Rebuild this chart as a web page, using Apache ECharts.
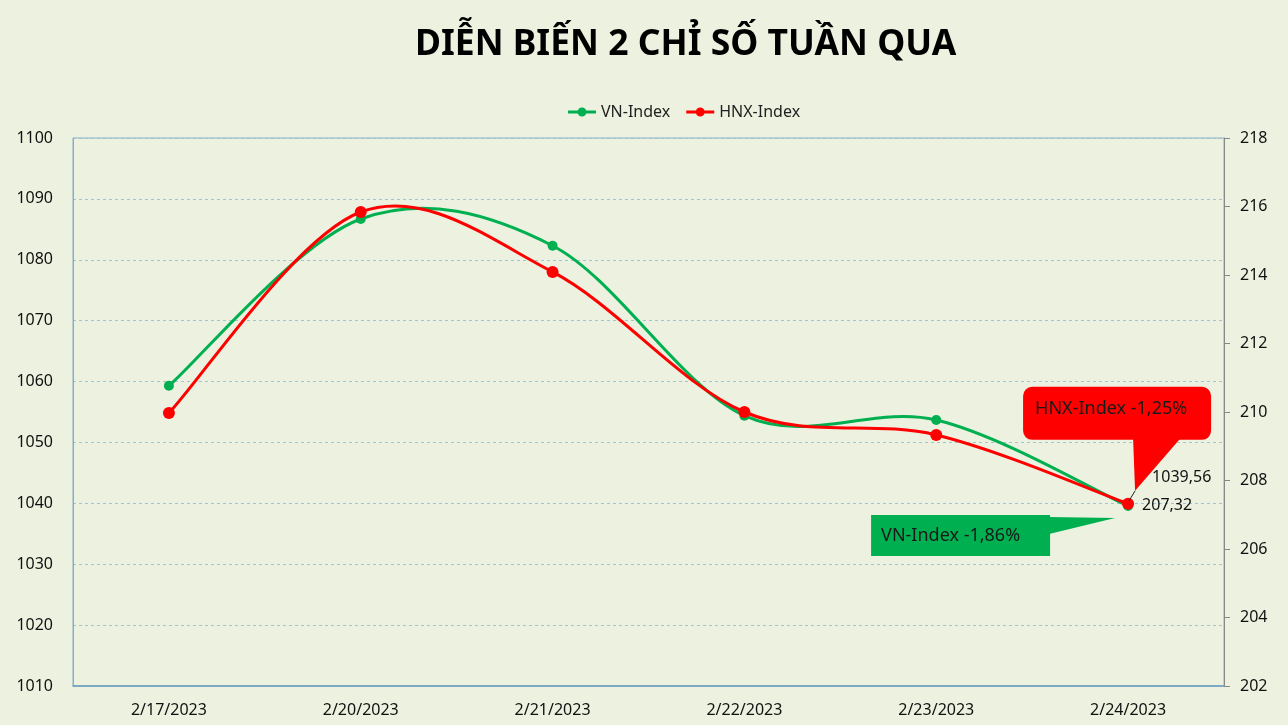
<!DOCTYPE html>
<html>
<head>
<meta charset="utf-8">
<script src="https://cdn.jsdelivr.net/npm/echarts@6/dist/echarts.min.js"></script>
<style>
html,body{margin:0;padding:0;background:#EDF1E0;}
#main{width:1288px;height:725px;}
</style>
</head>
<body>
<div id="main"></div>
<script>
const categories = ['2/17/2023','2/20/2023','2/21/2023','2/22/2023','2/23/2023','2/24/2023'];
const vnIndex = [1059.3, 1086.7, 1082.3, 1054.4, 1053.7, 1039.56];
const hnxIndex = [209.97, 215.84, 214.09, 210.0, 209.33, 207.32];
const leftTicks = {min: 1010, max: 1100, interval: 10};
const rightTicks = {min: 202, max: 218, interval: 2};
const vnChange = 'VN-Index -1,86%';
const hnxChange = 'HNX-Index -1,25%';

const FONT = 'Noto Sans';
const GREEN = '#00B050';
const RED = '#FF0000';
const LEGEND_ICON = 'path://M0,3.5 L28,3.5 L28,6.5 L0,6.5 Z M14,0.5 A4.5,4.5 0 1,1 14,9.5 A4.5,4.5 0 1,1 14,0.5 Z';
const chart = echarts.init(document.getElementById('main'));
const fmt = v => String(v).replace('.', ',');

// Excel-like smooth curve drawn through the data points, using the axis scales
function curveRenderer(color) {
  return function (params, api) {
    if (params.dataIndexInside !== 0) return null;
    const n = params.dataInsideLength;
    const pts = [];
    for (let i = 0; i < n; i++) pts.push(api.coord([api.value(0, i), api.value(1, i)]));
    const path = [];
    for (let i = 0; i < n - 1; i++) {
      const p0 = pts[Math.max(0, i - 1)], p1 = pts[i], p2 = pts[i + 1], p3 = pts[Math.min(n - 1, i + 2)];
      const c1 = [p1[0] + (p2[0] - p0[0]) / 6, p1[1] + (p2[1] - p0[1]) / 6];
      const c2 = [p2[0] - (p3[0] - p1[0]) / 6, p2[1] - (p3[1] - p1[1]) / 6];
      if (i === 0) path.push('M' + p1[0] + ' ' + p1[1]);
      path.push('C' + c1[0] + ' ' + c1[1] + ' ' + c2[0] + ' ' + c2[1] + ' ' + p2[0] + ' ' + p2[1]);
    }
    return {
      type: 'path',
      shape: {pathData: path.join(' ')},
      style: {fill: null, stroke: color, lineWidth: 3, lineJoin: 'round', lineCap: 'round'}
    };
  };
}

chart.setOption({
  animation: false,
  backgroundColor: '#EDF1E0',
  textStyle: {fontFamily: FONT},
  title: {
    text: 'DIỄN BIẾN 2 CHỈ SỐ TUẦN QUA',
    left: 410, top: 22,
    textStyle: {fontFamily: FONT, fontSize: 35.5, fontWeight: 'bold', color: '#000'}
  },
  legend: {
    top: 99, left: 563,
    itemWidth: 28, itemHeight: 10, itemGap: 16,
    textStyle: {fontFamily: FONT, fontSize: 16, color: '#222'},
    data: [
      {name: 'VN-Index', icon: LEGEND_ICON, itemStyle: {color: GREEN}},
      {name: 'HNX-Index', icon: LEGEND_ICON, itemStyle: {color: RED}}
    ]
  },
  grid: {
    left: 73, right: 64, top: 138, bottom: 39,
    show: true, borderColor: '#86AECB', borderWidth: 1, backgroundColor: 'transparent'
  },
  xAxis: {
    type: 'category', data: categories, boundaryGap: true,
    axisLine: {lineStyle: {color: '#6E9DBE', width: 1.5}},
    axisTick: {show: false},
    axisLabel: {fontSize: 16, color: '#111', margin: 16, fontFamily: FONT}
  },
  yAxis: [{
    type: 'value', min: leftTicks.min, max: leftTicks.max, interval: leftTicks.interval,
    axisLine: {show: true, lineStyle: {color: '#86AECB'}},
    axisTick: {show: false},
    axisLabel: {fontSize: 16, color: '#111', margin: 20, fontFamily: FONT, formatter: v => String(v)},
    splitLine: {show: true, lineStyle: {color: '#9CC6D6', type: [3, 3], width: 1}}
  }, {
    type: 'value', position: 'right', min: rightTicks.min, max: rightTicks.max, interval: rightTicks.interval,
    axisLine: {show: true, lineStyle: {color: '#888888'}},
    axisTick: {show: true, length: 6, lineStyle: {color: '#888888'}},
    axisLabel: {fontSize: 16, color: '#111', margin: 16, fontFamily: FONT},
    splitLine: {show: false}
  }],
  series: [{
    name: 'VN-Index', type: 'line', yAxisIndex: 0,
    data: vnIndex.map((v, i) => i === vnIndex.length - 1 ? {
      value: v,
      label: {show: true, position: 'right', offset: [14, -29], formatter: p => fmt(p.value),
        fontSize: 16, color: '#111', fontFamily: FONT}
    } : v),
    symbol: 'circle', symbolSize: 10,
    lineStyle: {color: GREEN, opacity: 0, width: 3},
    itemStyle: {color: GREEN},
    z: 4
  }, {
    name: 'HNX-Index', type: 'line', yAxisIndex: 1,
    data: hnxIndex.map((v, i) => i === hnxIndex.length - 1 ? {
      value: v,
      label: {show: true, position: 'right', offset: [0, 2], distance: 8, formatter: p => fmt(p.value),
        fontSize: 16, color: '#111', fontFamily: FONT}
    } : v),
    symbol: 'circle', symbolSize: 12,
    lineStyle: {color: RED, opacity: 0, width: 3},
    itemStyle: {color: RED},
    z: 5
  }, {
    name: 'VN-Index', type: 'custom', yAxisIndex: 0, z: 2,
    renderItem: curveRenderer(GREEN),
    data: vnIndex.map((v, i) => [i, v]),
    encode: {x: 0, y: 1}, silent: true
  }, {
    name: 'HNX-Index', type: 'custom', yAxisIndex: 1, z: 3,
    renderItem: curveRenderer(RED),
    data: hnxIndex.map((v, i) => [i, v]),
    encode: {x: 0, y: 1}, silent: true
  }]
});

function drawCallouts() {
  const last = categories.length - 1;
  const pv = chart.convertToPixel({xAxisIndex: 0, yAxisIndex: 0}, [last, vnIndex[last]]);
  const ph = chart.convertToPixel({xAxisIndex: 0, yAxisIndex: 1}, [last, hnxIndex[last]]);
  const rx = ph[0] - 105, ry = ph[1] - 117, rw = 188, rh = 53;
  const tipR = [ph[0] + 7, ph[1] - 13];
  const gx = pv[0] - 257, gy = pv[1] + 9, gw = 179, gh = 41;
  const tipG = [pv[0] - 13, pv[1] + 12];
  chart.setOption({
    graphic: [
      {type: 'polygon', z: 100, shape: {points: [[rx + 110, ry + rh - 1], [tipR[0], tipR[1]], [rx + 157, ry + rh - 1]]},
        style: {fill: RED}},
      {type: 'rect', z: 100, shape: {x: rx, y: ry, width: rw, height: rh, r: 9}, style: {fill: RED}},
      {type: 'line', z: 101, shape: {x1: tipR[0], y1: tipR[1], x2: ph[0] + 1, y2: ph[1] - 3},
        style: {stroke: '#222', lineWidth: 1}},
      {type: 'text', z: 102, style: {text: hnxChange, x: rx + 12, y: ry + 22, verticalAlign: 'middle',
        fontSize: 18, fontFamily: FONT, fill: '#1a1a1a'}},
      {type: 'polygon', z: 100, shape: {points: [[gx + gw - 1, gy + 2], [tipG[0], tipG[1]], [gx + gw - 1, gy + 19]]},
        style: {fill: GREEN}},
      {type: 'rect', z: 100, shape: {x: gx, y: gy, width: gw, height: gh}, style: {fill: GREEN}},
      {type: 'text', z: 102, style: {text: vnChange, x: gx + 10, y: gy + gh / 2, verticalAlign: 'middle',
        fontSize: 18, fontFamily: FONT, fill: '#1a1a1a'}}
    ]
  });
}
drawCallouts();
</script>
</body>
</html>
